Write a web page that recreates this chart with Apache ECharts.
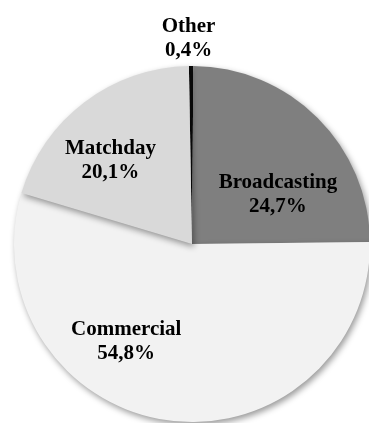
<!DOCTYPE html>
<html>
<head>
<meta charset="utf-8">
<script src="https://cdn.jsdelivr.net/npm/echarts@6/dist/echarts.min.js"></script>
<style>
  html, body { margin: 0; padding: 0; background: #ffffff; }
  #chart { width: 369px; height: 423px; }
</style>
</head>
<body>
<div id="chart"></div>
<script>
// Revenue split by source (percent of total)
const categories = ['Other', 'Broadcasting', 'Commercial', 'Matchday'];
const shares = [0.4, 24.7, 54.8, 20.1];
const sliceColors = ['#0d0d0d', '#7f7f7f', '#f2f2f2', '#d9d9d9'];
// Nudges for each label away from its default inside position
const labelShift = [[-3, -113], [21, 16], [-53, 6], [-26, -10]];

const chart = echarts.init(document.getElementById('chart'), null, { renderer: 'canvas' });

const data = categories.map((name, i) => ({
  name: name,
  value: shares[i],
  itemStyle: { color: sliceColors[i] }
}));

chart.setOption({
  animation: false,
  backgroundColor: '#ffffff',
  series: [{
    type: 'pie',
    center: [192, 244],
    radius: [0, 178],
    startAngle: 91,
    clockwise: true,
    avoidLabelOverlap: false,
    minShowLabelAngle: 0,
    data: data,
    itemStyle: {
      borderWidth: 0,
      shadowBlur: 6,
      shadowOffsetX: 2,
      shadowOffsetY: 3,
      shadowColor: 'rgba(0,0,0,0.4)'
    },
    label: {
      show: true,
      position: 'inside',
      color: '#000000',
      fontFamily: 'Liberation Serif',
      fontWeight: 'bold',
      fontSize: 21,
      lineHeight: 24,
      align: 'center',
      formatter: p => p.name + '\n' + p.value.toFixed(1).replace('.', ',') + '%'
    },
    labelLine: { show: false },
    labelLayout: p => ({ dx: labelShift[p.dataIndex][0], dy: labelShift[p.dataIndex][1] }),
    emphasis: { disabled: true }
  }]
});
</script>
</body>
</html>
